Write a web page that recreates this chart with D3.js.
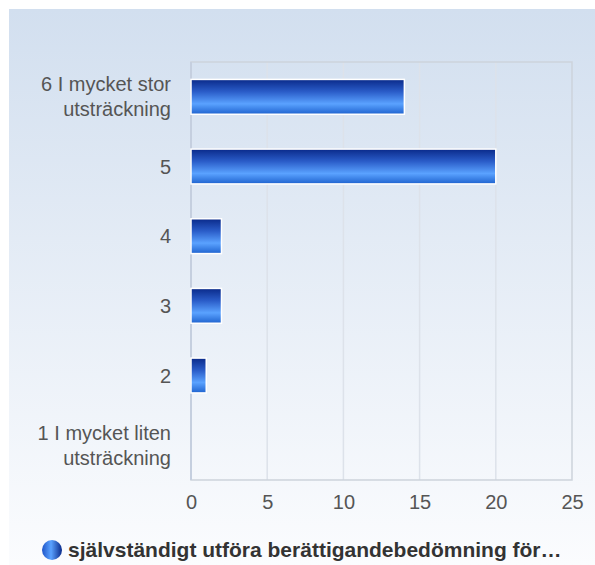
<!DOCTYPE html>
<html><head><meta charset="utf-8">
<script src="https://cdn.jsdelivr.net/npm/d3@7"></script>
<style>body{margin:0;background:#fff}svg{display:block}</style>
</head><body>
<script>
const categories = ["6 I mycket stor\nutsträckning","5","4","3","2","1 I mycket liten\nutsträckning"];
const values = [14,20,2,2,1,0];
const xTicks = [0,5,10,15,20,25];
const seriesName = "självständigt utföra berättigandebedömning för…";

const W=595,H=565;
const FONT="Liberation Sans, Arial, sans-serif";
const svg=d3.select("body").append("svg").attr("width",W).attr("height",H);
const defs=svg.append("defs");
const bg=defs.append("linearGradient").attr("id","bg").attr("x1",0).attr("y1",0).attr("x2",0).attr("y2",1);
bg.append("stop").attr("offset","0%").attr("stop-color","#d2dfef");
bg.append("stop").attr("offset","100%").attr("stop-color","#fbfcfe");
const bar=defs.append("linearGradient").attr("id","bar").attr("x1",0).attr("y1",0).attr("x2",0).attr("y2",1);
[[0,"#0a2a8a"],[0.35,"#2a5cc8"],[0.7,"#5aa2ff"],[1,"#1f63cf"]].forEach(([o,c])=>bar.append("stop").attr("offset",o).attr("stop-color",c));
const leg=defs.append("linearGradient").attr("id","leg").attr("x1",0).attr("y1",0).attr("x2",1).attr("y2",0);
[[0,"#1f55c8"],[0.45,"#5aa2ff"],[1,"#0a2a8a"]].forEach(([o,c])=>leg.append("stop").attr("offset",o).attr("stop-color",c));

svg.append("rect").attr("x",9).attr("y",9).attr("width",W-9).attr("height",H-9).attr("fill","url(#bg)");

const L=191,R=572,T=62,B=480;
const x=d3.scaleLinear().domain([0,25]).range([L,R]);
const y=d3.scaleBand().domain(categories).range([T,B]).paddingInner(0.5).paddingOuter(0.25);

// grid
svg.append("g").selectAll("line").data(xTicks.slice(1,-1)).join("line")
 .attr("x1",d=>x(d)).attr("x2",d=>x(d)).attr("y1",T).attr("y2",B)
 .attr("stroke","#dde2ea").attr("stroke-width",1.5);
svg.append("rect").attr("x",L).attr("y",T).attr("width",R-L).attr("height",B-T)
 .attr("fill","none").attr("stroke","#cdd3db").attr("stroke-width",1.5);
svg.append("line").attr("x1",L).attr("x2",L).attr("y1",T).attr("y2",B).attr("stroke","#c5cfdf").attr("stroke-width",2);

// bars
svg.append("g").selectAll("rect").data(values.map((v,i)=>({c:categories[i],v})).filter(d=>d.v>0)).join("rect")
 .attr("x",x(0)).attr("y",d=>y(d.c)).attr("width",d=>x(d.v)-x(0)).attr("height",y.bandwidth())
 .attr("fill","url(#bar)").attr("stroke","#ffffff").attr("stroke-width",1.5);

// x axis labels
const xa=d3.axisBottom(x).tickValues(xTicks).tickSize(0).tickPadding(0);
const gx=svg.append("g").attr("transform",`translate(0,${B+22})`).call(xa);
gx.select(".domain").remove();
gx.selectAll("text").attr("font-family",FONT).attr("font-size",20).attr("fill","#555").attr("dy","0.35em");

// y labels
const gy=svg.append("g");
categories.forEach(c=>{
  const lines=c.split("\n");
  const cy=y(c)+y.bandwidth()/2;
  const t=gy.append("text").attr("x",171).attr("text-anchor","end")
   .attr("font-family",FONT).attr("font-size",20).attr("fill","#555");
  lines.forEach((ln,i)=>{
    t.append("tspan").attr("x",171).attr("y",cy+(i-(lines.length-1)/2)*25).attr("dy","0.35em").text(ln);
  });
});

// legend
svg.append("circle").attr("cx",52).attr("cy",550).attr("r",10).attr("fill","url(#leg)");
svg.append("text").attr("x",68).attr("y",550).attr("dy","0.35em")
 .attr("font-family",FONT).attr("font-size",21).attr("font-weight","bold").attr("fill","#333").text(seriesName);
</script>
</body></html>
